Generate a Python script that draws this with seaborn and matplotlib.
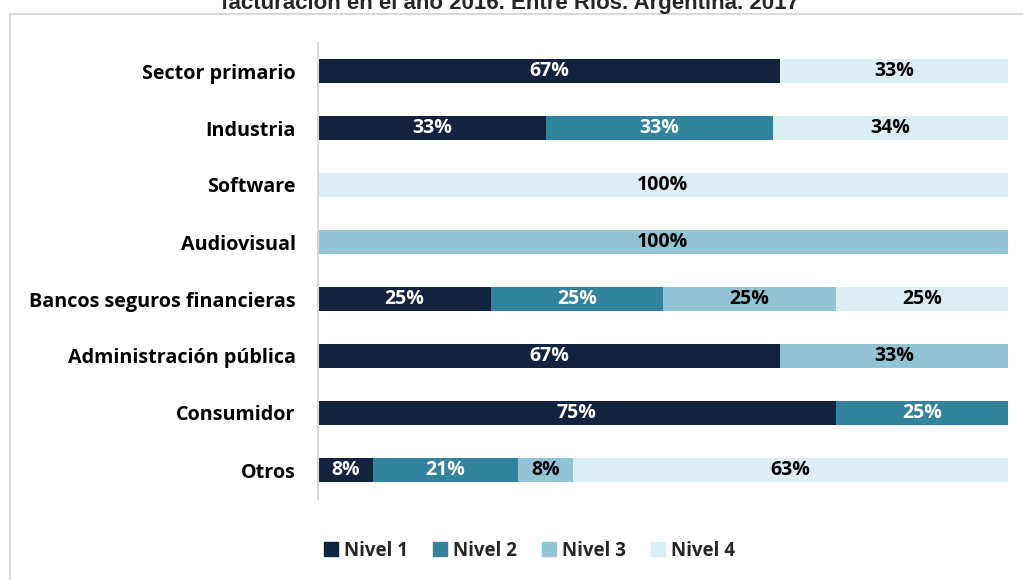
import matplotlib
matplotlib.use("Agg")
import matplotlib.pyplot as plt
import numpy as np
import pandas as pd
import seaborn as sns
from matplotlib.lines import Line2D
from matplotlib.patches import Rectangle

sectores = [
    "Sector primario",
    "Industria",
    "Software",
    "Audiovisual",
    "Bancos seguros financieras",
    "Administración pública",
    "Consumidor",
    "Otros",
]
niveles = ["Nivel 1", "Nivel 2", "Nivel 3", "Nivel 4"]
nivel1 = [67, 33, 0, 0, 25, 67, 75, 8]
nivel2 = [0, 33, 0, 0, 25, 0, 25, 21]
nivel3 = [0, 0, 0, 100, 25, 33, 0, 8]
nivel4 = [33, 34, 100, 0, 25, 0, 0, 63]

colores = ["#12233f", "#31849b", "#92c4d6", "#daeef3"]
texto_color = ["white", "white", "black", "black"]
titulo = "facturación en el año 2016. Entre Ríos. Argentina. 2017"

sns.set_theme(style="white")
plt.rcParams["font.family"] = ["Open Sans", "DejaVu Sans"]

df = pd.DataFrame({"Sector": sectores, "Nivel 1": nivel1, "Nivel 2": nivel2,
                   "Nivel 3": nivel3, "Nivel 4": nivel4})
valores = df[niveles].to_numpy()
acum = np.cumsum(valores, axis=1)

fig = plt.figure(figsize=(10.23, 5.8), dpi=100)
ax = fig.add_axes([318 / 1023, 1 - 498.5 / 580, 690 / 1023, 456 / 580])

# stacked bars: draw cumulative totals from the last level backwards
for i in range(len(niveles) - 1, -1, -1):
    tmp = pd.DataFrame({"Sector": sectores, "v": acum[:, i]})
    sns.barplot(data=tmp, x="v", y="Sector", color=colores[i], width=0.42,
                saturation=1, linewidth=0, ax=ax, orient="h")

for r in range(len(sectores)):
    for i in range(len(niveles)):
        v = valores[r, i]
        if v <= 0:
            continue
        centro = acum[r, i] - v / 2
        ax.text(centro, r, f"{v}%", ha="center", va="center", fontsize=14,
                fontweight="bold", color=texto_color[i])

ax.set_xlim(0, 100)
ax.set_ylim(len(sectores) - 0.5, -0.5)
ax.set_xlabel("")
ax.set_ylabel("")
ax.set_xticks([])
ax.tick_params(axis="y", length=0, pad=16)
for lab in ax.get_yticklabels():
    lab.set_fontsize(14.2)
    lab.set_fontweight("bold")
    lab.set_color("black")
for s in ["top", "right", "bottom"]:
    ax.spines[s].set_visible(False)
ax.spines["left"].set_color("#d9d9d9")
ax.spines["left"].set_linewidth(1.5)

fig.patches.append(Rectangle((10 / 1023, -0.1), 1.2, 1 - 14 / 580 + 0.1,
                             transform=fig.transFigure, fill=False,
                             edgecolor="#d9d9d9", linewidth=1.5))

fig.text(510 / 1023, 1 - 9 / 580, titulo, ha="center", va="baseline",
         fontsize=16, fontweight="bold", family=["Liberation Sans", "DejaVu Sans"])

handles = [Line2D([0], [0], marker="s", linestyle="", markersize=10,
                  markerfacecolor=c, markeredgecolor=c) for c in colores]
fig.legend(handles, niveles, loc="center", bbox_to_anchor=(528 / 1023, 1 - 551 / 580),
           ncol=4, frameon=False, prop={"size": 13.5, "weight": "bold"},
           handletextpad=0.2, columnspacing=1.2, handlelength=1.0)

fig.savefig("out.png", dpi=100)
